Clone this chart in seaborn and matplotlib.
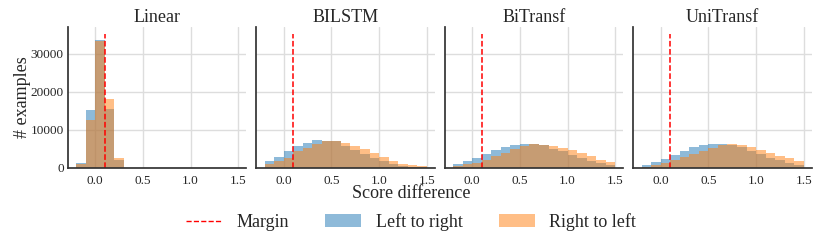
import numpy as np
import pandas as pd
import matplotlib
matplotlib.use("Agg")
import matplotlib.pyplot as plt
import seaborn as sns
from matplotlib.lines import Line2D
from matplotlib.patches import Patch

# ---------------- data ----------------
models = ["Linear", "BILSTM", "BiTransf", "UniTransf"]
directions = ["Left to right", "Right to left"]
bin_edges = [-0.2, -0.1, 0.0, 0.1, 0.2, 0.3, 0.4, 0.5, 0.6, 0.7, 0.8,
             0.9, 1.0, 1.1, 1.2, 1.3, 1.4, 1.5]
margin = 0.1
margin_top = 35300

linear_l2r = [1390, 15200, 33700, 15400, 2000, 0, 0, 0, 0, 0, 0, 0, 0, 0, 0, 0, 0]
linear_r2l = [960, 12700, 33300, 18200, 2520, 0, 0, 0, 0, 0, 0, 0, 0, 0, 0, 0, 0]
bilstm_l2r = [1770, 2920, 4510, 5840, 6640, 7260, 7080, 7000, 5840, 4780, 3630,
              2570, 1770, 1060, 620, 350, 180]
bilstm_r2l = [1060, 1770, 2740, 4340, 5220, 6370, 6990, 7080, 6550, 5840, 4870,
              3890, 2830, 1860, 1150, 710, 440]
bitransf_l2r = [1060, 1860, 2740, 3800, 4780, 5490, 6100, 6370, 6200, 5930, 4960,
                4420, 3360, 2570, 1860, 1240, 710]
bitransf_r2l = [530, 970, 1420, 2210, 3190, 4070, 4870, 5660, 6280, 6100, 5750,
                5220, 4690, 3890, 3100, 2210, 1590]
unitransf_l2r = [800, 1500, 2300, 3450, 4510, 5400, 6020, 6370, 6370, 6100, 5400,
                 4600, 3630, 2740, 2040, 1330, 880]
unitransf_r2l = [350, 800, 1330, 2120, 2920, 3800, 4600, 5310, 5930, 6200, 5930,
                 5490, 4780, 3980, 3190, 2570, 1770]

counts = {
    ("Linear", "Left to right"): linear_l2r,
    ("Linear", "Right to left"): linear_r2l,
    ("BILSTM", "Left to right"): bilstm_l2r,
    ("BILSTM", "Right to left"): bilstm_r2l,
    ("BiTransf", "Left to right"): bitransf_l2r,
    ("BiTransf", "Right to left"): bitransf_r2l,
    ("UniTransf", "Left to right"): unitransf_l2r,
    ("UniTransf", "Right to left"): unitransf_r2l,
}
xticks = [0.0, 0.5, 1.0, 1.5]
yticks = [0, 10000, 20000, 30000]

edges = np.array(bin_edges)
centers = (edges[:-1] + edges[1:]) / 2
rows = []
for (m, d), c in counts.items():
    for x, w in zip(centers, c):
        rows.append({"model": m, "direction": d, "score": x, "count": w})
df = pd.DataFrame(rows)

# ---------------- style ----------------
sns.set_theme(style="whitegrid")
plt.rcParams["font.family"] = ["Liberation Serif", "DejaVu Serif"]
plt.rcParams["axes.edgecolor"] = "#333333"
plt.rcParams["grid.color"] = "#dddddd"

colors = {"Left to right": "#1f77b4", "Right to left": "#ff7f0e"}

fig, axes = plt.subplots(1, 4, figsize=(8.22, 2.4), dpi=100, sharey=True)
fig.subplots_adjust(left=0.0827, right=0.9878, top=0.8875, bottom=0.30, wspace=0.056)

for ax, m in zip(axes, models):
    for d in directions:
        sub = df[(df.model == m) & (df.direction == d)]
        sns.histplot(data=sub, x="score", weights="count", bins=bin_edges,
                     color=colors[d], alpha=0.5, linewidth=0, ax=ax)
    ax.vlines(margin, 0, margin_top, colors="red", linestyles="--", linewidth=1.1)
    ax.set_title(m, fontsize=13, pad=3.5)
    ax.set_xticks(xticks)
    ax.set_xticklabels([f"{t:.1f}" for t in xticks])
    ax.set_yticks(yticks)
    ax.tick_params(axis="both", labelsize=9.5, length=0)
    ax.tick_params(axis="x", pad=5)
    ax.tick_params(axis="y", pad=3)
    ax.set_xlabel("")
    ax.set_ylabel("")
    for s in ["top", "right"]:
        ax.spines[s].set_visible(False)
    for s in ["left", "bottom"]:
        ax.spines[s].set_linewidth(1.25)
        ax.spines[s].set_color("#333333")

axes[0].set_ylabel("# examples", fontsize=13, labelpad=0)
fig.text(0.5, 1 - 194 / 240, "Score difference", ha="center", va="center", fontsize=13)

handles = [
    Line2D([0], [0], color="red", linestyle="--", linewidth=1.0),
    Patch(facecolor=colors["Left to right"], alpha=0.5, linewidth=0),
    Patch(facecolor=colors["Right to left"], alpha=0.5, linewidth=0),
]
fig.legend(handles, ["Margin"] + directions, loc="center", ncol=3,
           bbox_to_anchor=(0.5, 1 - 222 / 240), frameon=False, fontsize=13,
           columnspacing=2.0, handlelength=2.0)

fig.savefig("out.png", dpi=100)
